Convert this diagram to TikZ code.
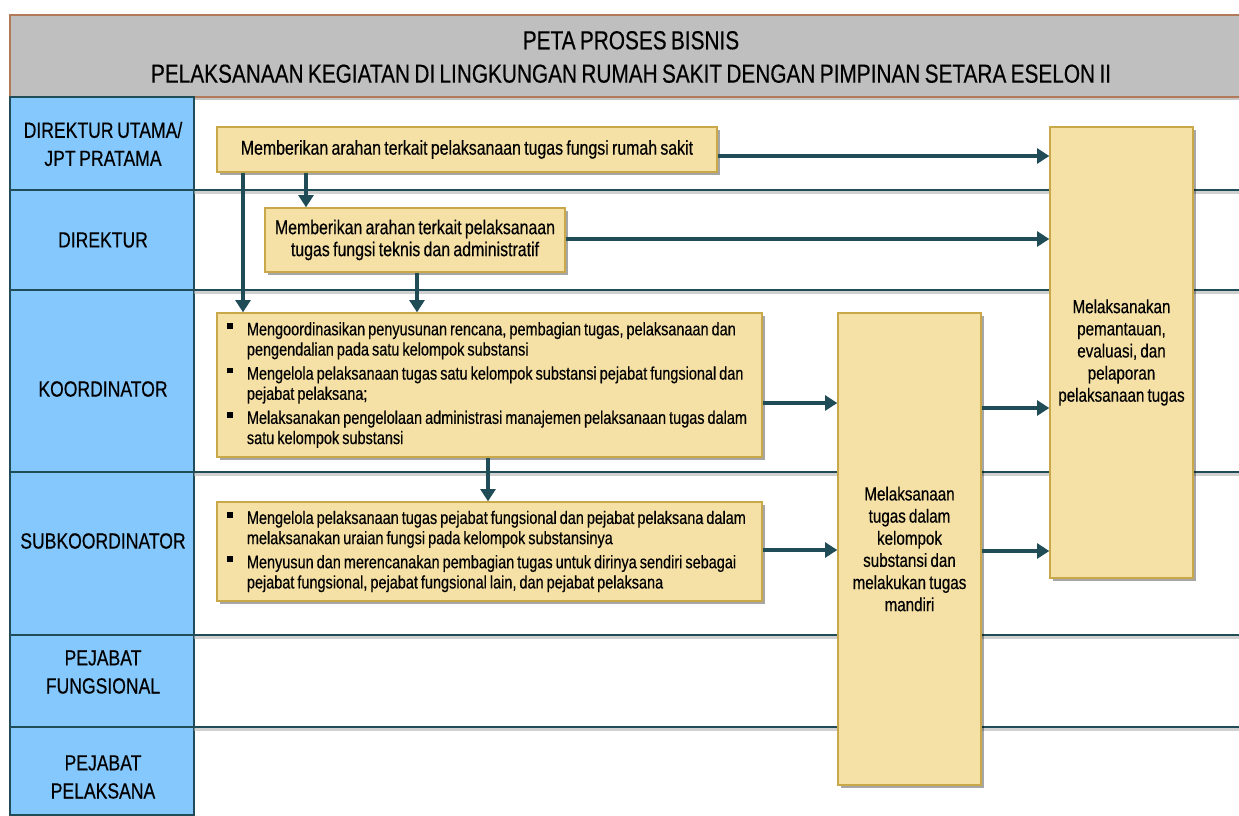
\documentclass[tikz,border=0pt]{standalone}
\usepackage{fontspec}
\setmainfont[FakeStretch=0.8, FakeBold=0.4, WordSpace=0.75]{Liberation Sans}
\usetikzlibrary{shadows,arrows.meta}
\definecolor{taskfill}{HTML}{F5E0A6}
\definecolor{taskline}{HTML}{C9A84A}
\definecolor{flowcol}{HTML}{1F4C56}
\definecolor{lanefill}{HTML}{85C8FD}
\definecolor{headfill}{HTML}{BFBFBF}
\definecolor{headtop}{HTML}{B37A5A}
\newcommand{\bitem}[1]{\par\hangindent=11.3pt\hangafter=1\noindent\makebox[11.3pt][l]{\rule[3.6pt]{3.2pt}{3.2pt}}#1}
\newenvironment{bulletlist}{\hspace{0.2cm}\begin{minipage}{10.7cm}\raggedright}{\end{minipage}}
\begin{document}
\begin{tikzpicture}[x=0.02cm, y=-0.02cm,
	task/.style={draw=taskline, fill=taskfill, line width=0.8pt, drop shadow={shadow xshift=1.5pt, shadow yshift=-1.5pt, opacity=0.35, fill=black}, font=\fontsize{11.3}{12.5}\selectfont, align=center, inner sep=0pt},
	bullets/.style={draw=taskline, fill=taskfill, line width=0.8pt, drop shadow={shadow xshift=1.5pt, shadow yshift=-1.5pt, opacity=0.35, fill=black}, inner sep=0pt, minimum width=10.9cm, font=\fontsize{10.3}{11.5}\selectfont},
	lane/.style={font=\fontsize{12.5}{16}\selectfont, align=center},
	flow/.style={draw=flowcol, line width=2pt, -{Triangle[length=7pt, width=8.5pt]}}]
	\useasboundingbox (0,0) rectangle (1239,815);
	\fill[white] (0,0) rectangle (1239,815);
	
	\fill[black!45, opacity=0.5] (10,97) rectangle (1239,100);
	\draw[headtop, fill=headfill, line width=0.8pt] (1239,15) -- (10,15) -- (10,97) -- (1239,97);
	\node[font=\fontsize{14.8}{19}\selectfont, align=center] (title) at (631,57) {PETA PROSES BISNIS\\PELAKSANAAN KEGIATAN DI LINGKUNGAN RUMAH SAKIT DENGAN PIMPINAN SETARA ESELON II};
	
	\draw[flowcol, line width=0.6pt, fill=lanefill] (10,97) rectangle (194,815);
	\foreach \y in {190,290,472,635,727} {
		\fill[black!30, opacity=0.6] (194,\y) rectangle (1239,\y+4);
		\draw[flowcol, line width=1.5pt] (194,\y) -- (1239,\y);
		\draw[flowcol, line width=0.6pt] (10,\y) -- (194,\y);
	}
	
	\node[lane] (lutama) at (103,144) {DIREKTUR UTAMA/\\JPT PRATAMA};
	\node[lane] (ldir) at (103,240) {DIREKTUR};
	\node[lane] (lkoord) at (103,389) {KOORDINATOR};
	\node[lane] (lsub) at (103,541) {SUBKOORDINATOR};
	\node[lane] (lfung) at (103,672) {PEJABAT\\FUNGSIONAL};
	\node[lane] (lpel) at (103,777) {PEJABAT\\PELAKSANA};
	
	\node[task, minimum width=10cm, minimum height=0.9cm] (utama) at (467,149.5) {Memberikan arahan terkait pelaksanaan tugas fungsi rumah sakit};
	\node[task, minimum width=6cm, minimum height=1.28cm] (direktur) at (415,240) {Memberikan arahan terkait pelaksanaan\\tugas fungsi teknis dan administratif};
	\node[bullets, minimum height=2.88cm] (koord) at (489.5,385) {\begin{bulletlist}
		\bitem{Mengoordinasikan penyusunan rencana, pembagian tugas, pelaksanaan dan\newline pengendalian pada satu kelompok substansi}\par\vspace{2.2pt}
		\bitem{Mengelola pelaksanaan tugas satu kelompok substansi pejabat fungsional dan\newline pejabat pelaksana;}\par\vspace{2.2pt}
		\bitem{Melaksanakan pengelolaan administrasi manajemen pelaksanaan tugas dalam\newline satu kelompok substansi}
	\end{bulletlist}};
	\node[bullets, minimum height=1.98cm] (subkoord) at (489.5,551.5) {\begin{bulletlist}
		\bitem{Mengelola pelaksanaan tugas pejabat fungsional dan pejabat pelaksana dalam\newline melaksanakan uraian fungsi pada kelompok substansinya}\par\vspace{2.2pt}
		\bitem{Menyusun dan merencanakan pembagian tugas untuk dirinya sendiri sebagai\newline pejabat fungsional, pejabat fungsional lain, dan pejabat pelaksana}
	\end{bulletlist}};
	\node[task, minimum width=2.86cm, minimum height=9.44cm, font=\fontsize{10.8}{12.6}\selectfont] (tugas) at (909.5,549) {Melaksanaan\\tugas dalam\\kelompok\\substansi dan\\melakukan tugas\\mandiri};
	\node[task, minimum width=2.86cm, minimum height=9.02cm, font=\fontsize{10.8}{12.6}\selectfont] (pantau) at (1121.5,352.5) {Melaksanakan\\pemantauan,\\evaluasi, dan\\pelaporan\\pelaksanaan tugas};
	
	\coordinate (y1) at (0,156);
	\coordinate (y2) at (0,239);
	\coordinate (y3) at (0,403);
	\coordinate (y4) at (0,550);
	\coordinate (y5) at (0,408);
	\coordinate (y6) at (0,551);
	\coordinate (x1) at (243,0);
	\coordinate (x2) at (306,0);
	\coordinate (x3) at (417,0);
	\coordinate (x4) at (488,0);
	
	\draw[flow] (utama.east |- y1) -- (pantau.west |- y1);
	\draw[flow] (direktur.east |- y2) -- (pantau.west |- y2);
	\draw[flow] (koord.east |- y3) -- (tugas.west |- y3);
	\draw[flow] (subkoord.east |- y4) -- (tugas.west |- y4);
	\draw[flow] (tugas.east |- y5) -- (pantau.west |- y5);
	\draw[flow] (tugas.east |- y6) -- (pantau.west |- y6);
	\draw[flow] (utama.south -| x1) -- (koord.north -| x1);
	\draw[flow] (utama.south -| x2) -- (direktur.north -| x2);
	\draw[flow] (direktur.south -| x3) -- (koord.north -| x3);
	\draw[flow] (koord.south -| x4) -- (subkoord.north -| x4);
\end{tikzpicture}
\end{document}
